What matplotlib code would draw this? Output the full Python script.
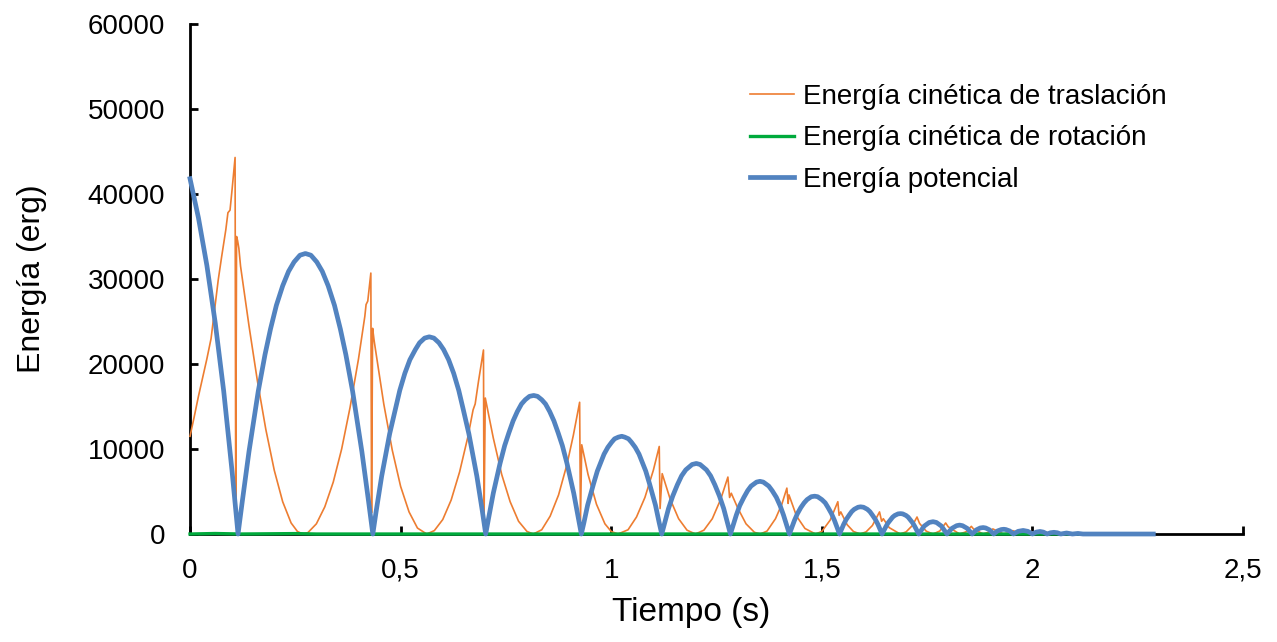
import matplotlib
matplotlib.use("Agg")
import matplotlib.pyplot as plt

# =========================
# font
# =========================
plt.rcParams["font.family"] = ["Liberation Sans", "DejaVu Sans"]

# =========================
# 1. data
# =========================
x_ticks = [0, 0.5, 1, 1.5, 2, 2.5]
x_tick_labels = ["0", "0,5", "1", "1,5", "2", "2,5"]
y_ticks = [0, 10000, 20000, 30000, 40000, 50000, 60000]
y_tick_labels = ["0", "10000", "20000", "30000", "40000", "50000", "60000"]

series_names = [
    "Energía cinética de traslación",
    "Energía cinética de rotación",
    "Energía potencial",
]

# energía potencial (s, erg) - one row per bounce
pot_t = [
    0, 0.02, 0.04, 0.06, 0.08, 0.10, 0.114,
    0.124, 0.140, 0.162, 0.178, 0.191, 0.205, 0.220, 0.234, 0.247, 0.261, 0.274,
    0.287, 0.301, 0.314, 0.328, 0.343, 0.357, 0.370, 0.386, 0.408, 0.424, 0.434,
    0.442, 0.455, 0.474, 0.488, 0.498, 0.510, 0.522, 0.535, 0.545, 0.557, 0.568,
    0.579, 0.591, 0.602, 0.614, 0.626, 0.638, 0.648, 0.662, 0.681, 0.694, 0.702,
    0.709, 0.720, 0.736, 0.747, 0.757, 0.767, 0.777, 0.787, 0.796, 0.806, 0.816,
    0.825, 0.835, 0.844, 0.854, 0.864, 0.874, 0.884, 0.895, 0.911, 0.922, 0.929,
    0.935, 0.944, 0.958, 0.967, 0.975, 0.983, 0.992, 1.001, 1.008, 1.017, 1.025,
    1.032, 1.041, 1.048, 1.057, 1.066, 1.074, 1.082, 1.091, 1.105, 1.114, 1.120,
    1.136, 1.146, 1.157, 1.167, 1.177, 1.192, 1.202, 1.211, 1.226, 1.236, 1.246, 1.257, 1.267, 1.283,
    1.297, 1.305, 1.315, 1.324, 1.332, 1.345, 1.353, 1.361, 1.374, 1.382, 1.392, 1.401, 1.409, 1.423,
    1.435, 1.442, 1.450, 1.458, 1.465, 1.475, 1.483, 1.490, 1.500, 1.508, 1.515, 1.523, 1.530, 1.542,
    1.552, 1.558, 1.565, 1.571, 1.577, 1.586, 1.592, 1.599, 1.608, 1.614, 1.620, 1.627, 1.633, 1.643,
    1.652, 1.657, 1.663, 1.668, 1.673, 1.681, 1.687, 1.692, 1.700, 1.705, 1.710, 1.716, 1.721, 1.730,
    1.743, 1.755, 1.764, 1.772, 1.784, 1.797,
    1.809, 1.820, 1.827, 1.834, 1.845, 1.857,
    1.867, 1.876, 1.883, 1.889, 1.898, 1.908,
    1.917, 1.926, 1.932, 1.937, 1.946, 1.955,
    1.966, 1.978, 1.989, 2.000,
    2.009, 2.018, 2.026, 2.035,
    2.043, 2.051, 2.059, 2.067,
    2.081, 2.095, 2.108, 2.120, 2.287,
]
pot_e = [
    41800, 37200, 31600, 24800, 16800, 7300, 0,
    3800, 9700, 16800, 21100, 24100, 26900, 29200, 30900, 32000, 32800, 33000,
    32800, 32000, 30900, 29200, 26900, 24100, 21100, 16800, 9700, 3800, 0,
    2700, 6800, 11800, 14800, 16900, 18900, 20500, 21700, 22500, 23050, 23200,
    23050, 22500, 21700, 20500, 18900, 16900, 14800, 11800, 6800, 2700, 0,
    1900, 4800, 8300, 10400, 11900, 13300, 14400, 15300, 15800, 16200, 16300,
    16200, 15800, 15300, 14400, 13300, 11900, 10400, 8300, 4800, 1900, 0,
    1300, 3400, 5900, 7400, 8400, 9400, 10200, 10800, 11200, 11400, 11500,
    11400, 11200, 10800, 10200, 9400, 8400, 7400, 5900, 3400, 1300, 0,
    3000, 4460, 5790, 6840, 7550, 8180, 8300, 8180, 7550, 6840, 5790, 4460, 3000, 0,
    2230, 3330, 4320, 5110, 5640, 6110, 6200, 6110, 5640, 5110, 4320, 3330, 2230, 0,
    1600, 2390, 3100, 3670, 4050, 4390, 4450, 4390, 4050, 3670, 3100, 2390, 1600, 0,
    1150, 1720, 2230, 2640, 2910, 3150, 3200, 3150, 2910, 2640, 2230, 1720, 1150, 0,
    860, 1290, 1670, 1980, 2180, 2370, 2400, 2370, 2180, 1980, 1670, 1290, 860, 0,
    930, 1360, 1450, 1360, 930, 0,
    670, 980, 1050, 980, 670, 0,
    490, 710, 760, 710, 490, 0,
    360, 525, 560, 525, 360, 0,
    315, 420, 315, 0,
    225, 300, 225, 0,
    150, 200, 150, 0,
    120, 0, 70, 0, 0,
]

# energía cinética de traslación (s, erg)
tras_t = [
    0, 0.01, 0.02, 0.03, 0.04, 0.05, 0.06, 0.067, 0.075, 0.085, 0.09, 0.095, 0.10, 0.107,
    0.1085, 0.1105, 0.113, 0.116, 0.12, 0.14, 0.16, 0.18, 0.20, 0.22, 0.24, 0.255, 0.268,
    0.28, 0.30, 0.32, 0.34, 0.36, 0.38, 0.40, 0.415, 0.418, 0.422, 0.4293,
    0.431, 0.4335, 0.437, 0.44, 0.46, 0.48, 0.50, 0.52, 0.54, 0.562,
    0.58, 0.60, 0.62, 0.64, 0.66, 0.672, 0.677, 0.685, 0.6967,
    0.698, 0.701, 0.72, 0.74, 0.76, 0.78, 0.80, 0.815,
    0.835, 0.855, 0.875, 0.895, 0.91, 0.925,
    0.927, 0.93, 0.945, 0.965, 0.985, 1.00, 1.016,
    1.04, 1.06, 1.08, 1.10, 1.114,
    1.116, 1.121, 1.14, 1.16, 1.18, 1.20,
    1.22, 1.24, 1.26, 1.277, 1.281, 1.285, 1.30, 1.32, 1.34, 1.354,
    1.37, 1.39, 1.405, 1.417, 1.42, 1.422, 1.44, 1.46, 1.485,
    1.50, 1.52, 1.538, 1.541, 1.545, 1.56, 1.575, 1.591,
    1.605, 1.62, 1.637, 1.642, 1.646, 1.66, 1.686,
    1.70, 1.715, 1.726, 1.732, 1.748, 1.764,
    1.78, 1.794, 1.80, 1.827,
    1.842, 1.855, 1.86, 1.883,
    1.895, 1.906, 1.931,
    1.945, 1.953, 1.977,
    1.998, 2.017, 2.033, 2.05, 2.07,
]
tras_e = [
    11500, 13800, 16200, 18400, 20600, 23000, 27000, 29900, 32600, 35800, 37800, 38100, 40600, 44300,
    3200, 35000, 34500, 33600, 31500, 24500, 18000, 12300, 7500, 3800, 1300, 300, 0,
    170, 1200, 3200, 6100, 10000, 14900, 20600, 25600, 27000, 27400, 30700,
    2500, 24200, 22800, 21800, 15300, 9900, 5600, 2600, 700, 0,
    400, 1700, 4000, 7300, 11500, 14600, 15300, 18000, 21650,
    1300, 16000, 11300, 7000, 3800, 1500, 300, 0,
    500, 2100, 4600, 8200, 11600, 15500,
    1500, 10500, 7000, 3500, 1200, 300, 0,
    500, 2000, 4300, 7500, 10300,
    3000, 7100, 4100, 1800, 450, 0,
    450, 1800, 4100, 6700, 4300, 4800, 3100, 1200, 200, 0,
    350, 1800, 3500, 5400, 3600, 4600, 2100, 650, 0,
    300, 1650, 3800, 2200, 2600, 1100, 300, 0,
    250, 1000, 2600, 1500, 1800, 750, 0,
    250, 1000, 2000, 1250, 330, 0,
    350, 1300, 850, 0,
    250, 900, 600, 0,
    200, 600, 0,
    150, 400, 0,
    280, 0, 200, 0, 0,
]

# energía cinética de rotación (s, erg)
rot_t = [0, 0.06, 0.12, 0.25, 0.30, 0.60, 0.90, 1.20, 1.50, 1.80, 2.10, 2.287]
rot_e = [0, 60, 0, 50, 0, 0, 0, 0, 0, 0, 0, 0]

# =========================
# 2. figure
# =========================
fig = plt.figure(figsize=(12.77, 6.42), dpi=100)
ax = fig.add_axes([0.1488, 0.1682, 0.8246, 0.7944])

ax.plot(tras_t, tras_e, color="#ED7D31", lw=1.2, label=series_names[0],
        zorder=3, clip_on=False)
ax.plot(rot_t, rot_e, color="#00AA3C", lw=2.4, label=series_names[1],
        zorder=4, clip_on=False)
ax.plot(pot_t, pot_e, color="#5283C0", lw=3.4, label=series_names[2],
        zorder=5, clip_on=False)

ax.set_xlim(0, 2.5)
ax.set_ylim(0, 60000)
ax.set_xticks(x_ticks)
ax.set_xticklabels(x_tick_labels)
ax.set_yticks(y_ticks)
ax.set_yticklabels(y_tick_labels)

ax.spines["top"].set_visible(False)
ax.spines["right"].set_visible(False)
for side in ["left", "bottom"]:
    ax.spines[side].set_linewidth(2.0)
    ax.spines[side].set_color("black")

ax.tick_params(axis="both", direction="in", length=6, width=2.0,
               labelsize=20, colors="black")
ax.tick_params(axis="x", pad=17)
ax.tick_params(axis="y", pad=18)

ax.set_xlabel("Tiempo (s)", fontsize=24)
ax.set_ylabel("Energía (erg)", fontsize=23)
ax.xaxis.set_label_coords(0.4758, -0.124)
ax.yaxis.set_label_coords(-0.136, 0.50)

leg = ax.legend(loc="upper left", bbox_to_anchor=(0.5873, 0.869),
                bbox_transform=fig.transFigure, frameon=False, fontsize=20,
                handlelength=1.6, handletextpad=0.3, labelspacing=0.55,
                borderpad=0, borderaxespad=0)

fig.savefig("out.png", dpi=100)
